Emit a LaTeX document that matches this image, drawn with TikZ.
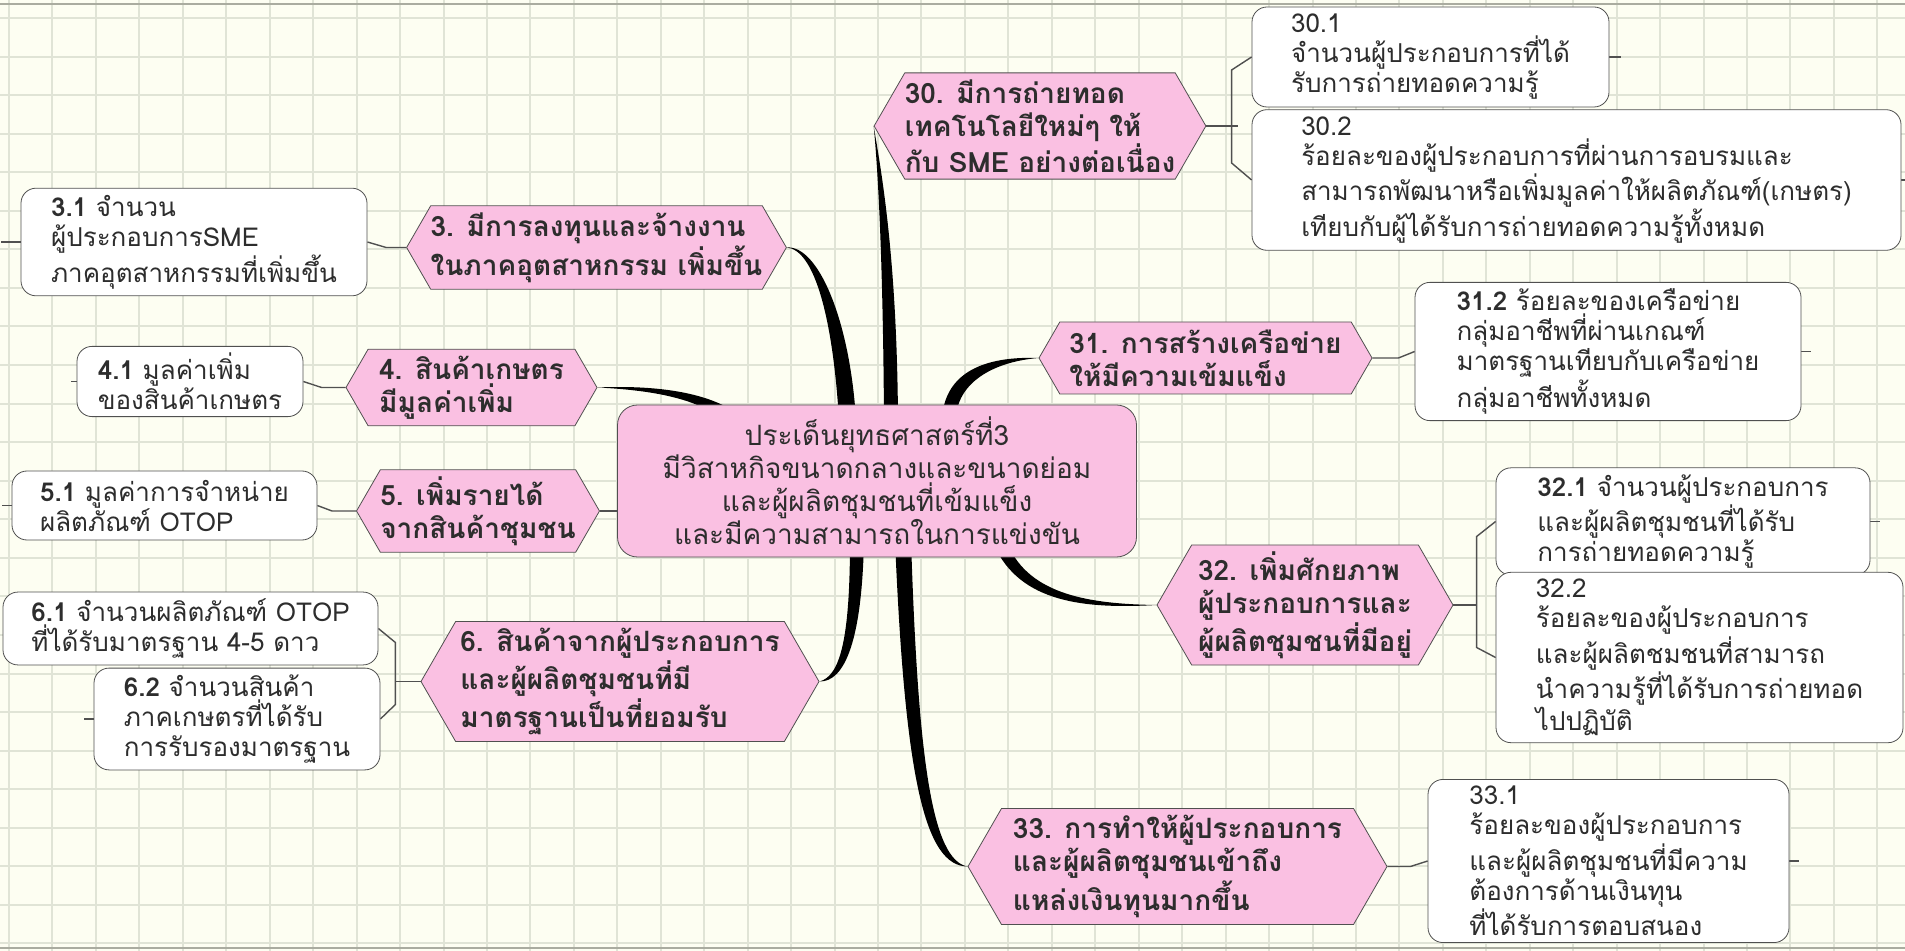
\documentclass[tikz,border=0pt]{standalone}
\usepackage{fontspec}
\setmainfont[Script=Thai]{Loma}
\usetikzlibrary{shapes.symbols,backgrounds}
\definecolor{paper}{RGB}{253,254,242}
\definecolor{gridgray}{RGB}{224,228,214}
\definecolor{framegray}{RGB}{170,172,160}
\definecolor{goalpink}{RGB}{250,192,226}
\definecolor{ink}{RGB}{45,45,45}
\definecolor{edge}{RGB}{80,80,80}
\tikzset{
  hubnode/.style={draw=edge, fill=goalpink, rounded corners=10pt, align=center, text=ink, font=\fontsize{14}{16.5}\selectfont},
  goal/.style={draw=edge, fill=goalpink, signal, signal to=east and west, signal pointer angle=120, inner xsep=0pt, align=left, text=ink, font=\bfseries\fontsize{14}{16.5}\selectfont},
  measure/.style={draw=edge, fill=white, rounded corners=7.5pt, align=left, text=ink, font=\fontsize{13}{15}\selectfont},
  boxsize/.style n args={2}{minimum width=0.5pt*#1, minimum height=0.5pt*#2},
  twig/.style={draw=edge, line width=0.7pt},
  limb/.style={fill=black},
  gridline/.style={draw=gridgray, line width=1pt},
  frame/.style={draw=framegray, line width=1pt}
}
\begin{document}
\begin{tikzpicture}[x=0.5pt,y=-0.5pt]
\useasboundingbox (0,0) rectangle (1905,951);

\node[hubnode, boxsize={519}{152}] (hub) at (877,481) {ประเด็นยุทธศาสตร์ที่3\\มีวิสาหกิจขนาดกลางและขนาดย่อม\\และผู้ผลิตชุมชนที่เข้มแข็ง\\และมีความสามารถในการแข่งขัน};

\node[goal, boxsize={377}{73}] (g3) at (596.5,247.5) {3. มีการลงทุนและจ้างงาน\\ในภาคอุตสาหกรรม เพิ่มขึ้น};
\node[goal, boxsize={251}{73}] (g4) at (471.5,387.5) {4. สินค้าเกษตร\\มีมูลค่าเพิ่ม};
\node[goal, boxsize={238}{74}] (g5) at (478,511) {5. เพิ่มรายได้\\จากสินค้าชุมชน};
\node[goal, boxsize={398}{103}] (g6) at (620,681.5) {6. สินค้าจากผู้ประกอบการ\\และผู้ผลิตชุมชนที่มี\\มาตรฐานเป็นที่ยอมรับ};
\node[goal, boxsize={320}{102}] (g30) at (1040,126) {30. มีการถ่ายทอด\\เทคโนโลยีใหม่ๆ ให้\\กับ SME อย่างต่อเนื่อง};
\node[goal, boxsize={333}{72}] (g31) at (1205.5,358) {31. การสร้างเครือข่าย\\ให้มีความเข้มแข็ง};
\node[goal, boxsize={296}{104}] (g32) at (1305,605) {32. เพิ่มศักยภาพ\\ผู้ประกอบการและ\\ผู้ผลิตชุมชนที่มีอยู่};
\node[goal, boxsize={419}{103}] (g33) at (1177.5,866.5) {33. การทำให้ผู้ประกอบการ\\และผู้ผลิตชุมชนเข้าถึง\\แหล่งเงินทุนมากขึ้น};

\node[measure, boxsize={346}{100}] (i31) at (194,242) {\textbf{3.1} จำนวน\\ผู้ประกอบการSME\\ภาคอุตสาหกรรมที่เพิ่มขึ้น};
\node[measure, boxsize={226}{69}] (i41) at (190,381.5) {\textbf{4.1} มูลค่าเพิ่ม\\ของสินค้าเกษตร};
\node[measure, boxsize={305}{69}] (i51) at (164.5,505.5) {\textbf{5.1} มูลค่าการจำหน่าย\\ผลิตภัณฑ์ OTOP};
\node[measure, boxsize={375}{69}] (i61) at (190.5,628.5) {\textbf{6.1} จำนวนผลิตภัณฑ์ OTOP\\ที่ได้รับมาตรฐาน 4-5 ดาว};
\node[measure, boxsize={286}{100}] (i62) at (237,719) {\textbf{6.2} จำนวนสินค้า\\ภาคเกษตรที่ได้รับ\\การรับรองมาตรฐาน};
\node[measure, boxsize={357}{100}] (i301) at (1430.5,57) {30.1\\จำนวนผู้ประกอบการที่ได้\\รับการถ่ายทอดความรู้};
\node[measure, boxsize={649}{132}] (i302) at (1576.5,180) {30.2\\ร้อยละของผู้ประกอบการที่ผ่านการอบรมและ\\สามารถพัฒนาหรือเพิ่มมูลค่าให้ผลิตภัณฑ์(เกษตร)\\เทียบกับผู้ได้รับการถ่ายทอดความรู้ทั้งหมด};
\node[measure, boxsize={386}{131}] (i312) at (1608,351.5) {\textbf{31.2} ร้อยละของเครือข่าย\\กลุ่มอาชีพที่ผ่านเกณฑ์\\มาตรฐานเทียบกับเครือข่าย\\กลุ่มอาชีพทั้งหมด};
\node[measure, boxsize={374}{99}] (i321) at (1683,521.5) {\textbf{32.1} จำนวนผู้ประกอบการ\\และผู้ผลิตชุมชนที่ได้รับ\\การถ่ายทอดความรู้};
\node[measure, boxsize={407}{161}] (i322) at (1699.5,657.5) {32.2\\ร้อยละของผู้ประกอบการ\\และผู้ผลิตชมชนที่สามารถ\\นำความรู้ที่ได้รับการถ่ายทอด\\ไปปฏิบัติ};
\node[measure, boxsize={361}{160}] (i331) at (1608.5,861) {33.1\\ร้อยละของผู้ประกอบการ\\และผู้ผลิตชุมชนที่มีความ\\ต้องการด้านเงินทุน\\ที่ได้รับการตอบสนอง};

\begin{pgfonlayer}{background}
\fill[paper] (0,0) rectangle (1905,951);
\foreach \gx in {0,...,43} \draw[gridline] ({9+43.45*\gx},0) -- ({9+43.45*\gx},951);
\foreach \gy in {0,...,24} \draw[gridline] (0,{18+38.56*\gy}) -- (1905,{18+38.56*\gy});
\draw[frame] (0,4) -- (1905,4);
\draw[frame] (0,948) -- (1905,948);

\fill[limb] (884,420) .. controls (883,260) and (878,170) .. (g30.west) .. controls (882,175) and (897,260) .. (898,420) -- cycle;
\fill[limb] (839,420) .. controls (833,320) and (815,250) .. (g3.east) .. controls (818,245) and (850,320) .. (856,420) -- cycle;
\fill[limb] (942,420) .. controls (944,372) and (985,356) .. (g31.west) .. controls (990,362) and (956,385) .. (956,420) -- cycle;
\fill[limb] (g4.east) .. controls (655,385) and (705,392) .. (735,412) -- (720,418) .. controls (695,398) and (650,390) .. (g4.east) -- cycle;
\fill[limb] (864,540) .. controls (862,640) and (845,682) .. (g6.east) .. controls (840,676) and (850,640) .. (850,540) -- cycle;
\fill[limb] (895,540) .. controls (905,780) and (925,866) .. (g33.west) .. controls (932,860) and (918,760) .. (911,540) -- cycle;
\fill[limb] (1008,545) .. controls (1030,595) and (1090,604) .. (g32.west) .. controls (1085,609) and (1020,603) .. (994,545) -- cycle;
\draw[twig] (g5.east) -- (hub.west |- g5.east);

\draw[twig] (g3.west) -- ++(-20,0) -- (i31.east);
\draw[twig] (g4.west) -- ++(-24,0) -- (i41.east);
\draw[twig] (g5.west) -- ++(-24,0) -- (i51.east);
\draw[twig] (g6.west) -- ++(-26,0);
\draw[twig] (i61.east) -- ++(17,14) -- ++(0,62) -- (i62.east);
\draw[twig] (g30.east) -- ++(32,0);
\draw[twig] (i301.west) -- ++(-20,13) -- ++(0,93) -- (i302.west);
\draw[twig] (g31.east) -- ++(26,0) -- (i312.west);
\draw[twig] (g32.east) -- ++(24,0);
\draw[twig] (i321.west) -- ++(-19,15) -- ++(0,111) -- (i322.west);
\draw[twig] (g33.east) -- ++(23,0) -- (i331.west);

\draw[twig] (i31.west) -- ++(-20,0);
\draw[twig] (i41.west) -- ++(-6,0);
\draw[twig] (i51.west) -- ++(-10,0);
\draw[twig] (i62.west) -- ++(-10,0);
\draw[twig] (i301.east) -- ++(12,0);
\draw[twig] (i302.east) -- ++(4,0);
\draw[twig] (i312.east) -- ++(10,0);
\draw[twig] (i321.east) -- ++(10,0);
\draw[twig] (i331.east) -- ++(10,0);
\end{pgfonlayer}
\end{tikzpicture}
\end{document}
